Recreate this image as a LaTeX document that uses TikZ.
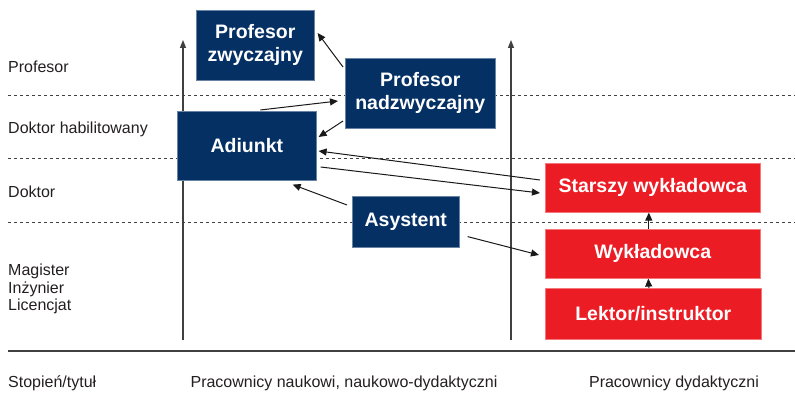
\documentclass[tikz,border=0pt]{standalone}
\usepackage{fontspec}
\setmainfont{Liberation Sans}
\usetikzlibrary{arrows.meta}
\definecolor{navy}{RGB}{5,48,100}
\definecolor{redbox}{RGB}{236,28,36}
\definecolor{txt}{RGB}{35,31,32}
\tikzset{
  nbox/.style={fill=navy,draw=navy!60!white,line width=0.6pt,text=white,font=\fontsize{19.5}{23}\selectfont\bfseries,align=center,inner sep=0pt,anchor=north west},
  rbox/.style={fill=redbox,draw=redbox!60!white,line width=0.6pt,text=white,font=\fontsize{19.5}{23}\selectfont\bfseries,align=center,inner sep=0pt,anchor=north west},
  lab/.style={text=txt,font=\fontsize{16}{19}\selectfont,anchor=west,inner sep=0pt},
  sep/.style={draw=black!75,dash pattern=on 2.5pt off 3.5pt,line width=0.8pt},
  conn/.style={draw=black!90,line width=1pt,-{Triangle[length=8pt,width=7pt]}},
  axis/.style={draw=black!75,line width=1.3pt,-{Triangle[length=8pt,width=6pt]}}
}
\begin{document}
\begin{tikzpicture}[x=1pt,y=-1pt]
\useasboundingbox (0,0) rectangle (795,395);
% level separators
\draw[sep] (8,95) -- (795,95);
\draw[sep] (8,158) -- (795,158);
\draw[sep] (8,222) -- (795,222);
\draw[draw=black!75,line width=1.2pt] (8,351) -- (795,351);
% axes
\coordinate (a1s) at (183,340); \coordinate (a1e) at (183,40);
\coordinate (a2s) at (511,340); \coordinate (a2e) at (511,40);
\draw[axis] (a1s) -- (a1e);
\draw[axis] (a2s) -- (a2e);
% boxes
\node[nbox,minimum width=118pt,minimum height=70pt] (pz) at (196,10) {Profesor\\zwyczajny};
\node[nbox,minimum width=150pt,minimum height=70pt] (pn) at (345,58) {Profesor\\nadzwyczajny};
\node[nbox,minimum width=139pt,minimum height=69pt] (ad) at (177,111) {Adiunkt};
\node[nbox,minimum width=107pt,minimum height=51pt] (as) at (352,196) {Asystent};
\node[rbox,minimum width=215pt,minimum height=49pt] (sw) at (545,163) {Starszy wykładowca};
\node[rbox,minimum width=215pt,minimum height=49pt] (wy) at (545,229) {Wykładowca};
\node[rbox,minimum width=216pt,minimum height=51pt] (le) at (545,288) {Lektor/instruktor};
% connectors
\draw[conn] ([xshift=-2pt,yshift=-9pt]pn.north west) -- ([xshift=3pt,yshift=-23pt]pz.north east);
\draw[conn] ([xshift=13.5pt,yshift=1pt]ad.north) -- ([xshift=-7pt,yshift=-43pt]pn.north west);
\draw[conn] ([xshift=-2pt,yshift=-63pt]pn.north west) -- ([xshift=2pt,yshift=-26pt]ad.north east);
\draw[conn] ([xshift=-5pt,yshift=-17pt]sw.north west) -- ([xshift=2pt,yshift=-40pt]ad.north east);
\draw[conn] ([xshift=4pt,yshift=-56pt]ad.north east) -- ([xshift=-5pt,yshift=-30pt]sw.north west);
\draw[conn] ([xshift=-5pt,yshift=-9pt]as.north west) -- ([xshift=-24pt,yshift=-4pt]ad.south east);
\draw[conn] ([xshift=8pt,yshift=11pt]as.south east) -- ([xshift=-6pt,yshift=-26pt]wy.north west);
\draw[conn] ([xshift=-4pt]wy.north) -- ([xshift=-4pt]sw.south);
\draw[conn] ([xshift=-4.5pt]le.north) -- ([xshift=-4.5pt]wy.south);
% level labels
\node[lab] (l1) at (8,67) {Profesor};
\node[lab] (l2) at (8,129) {Doktor habilitowany};
\node[lab] (l3) at (8,192) {Doktor};
\node[lab,align=left,font=\fontsize{16}{17.5}\selectfont] (l4) at (8,289) {Magister\\Inżynier\\Licencjat};
% bottom labels
\node[lab] (b1) at (8,383) {Stopień/tytuł};
\node[lab,anchor=center] (b2) at (344,383) {Pracownicy naukowi, naukowo-dydaktyczni};
\node[lab,anchor=center] (b3) at (674,383) {Pracownicy dydaktyczni};
\end{tikzpicture}
\end{document}
